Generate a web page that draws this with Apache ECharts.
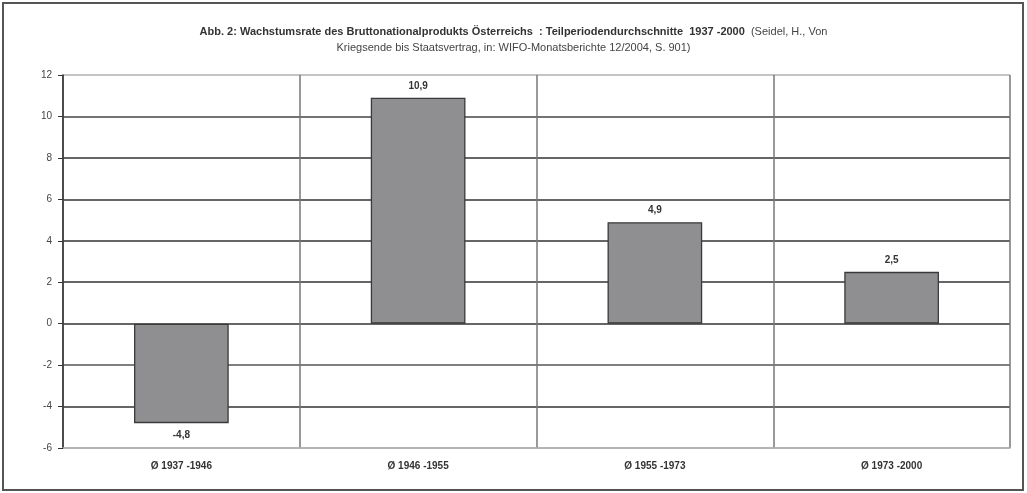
<!DOCTYPE html>
<html><head><meta charset="utf-8">
<script src="https://cdn.jsdelivr.net/npm/echarts@6/dist/echarts.min.js"></script>
<style>html,body{margin:0;padding:0;background:#fff}#c{width:1027px;height:493px}</style>
</head><body><div id="c"></div>
<script>
var categories = ['Ø 1937 -1946', 'Ø 1946 -1955', 'Ø 1955 -1973', 'Ø 1973 -2000'];
var growth = [-4.8, 10.9, 4.9, 2.5];
var yMin = -6, yMax = 12, yStep = 2;

var chart = echarts.init(document.getElementById('c'));
var gridColors = ['#b0b0b0','#333','#555','#333','#333','#333','#333','#333','#444','#b0b0b0'];
chart.setOption({
  animation: false,
  textStyle: {fontFamily: 'Liberation Sans'},
  graphic: [{type:'rect', shape:{x:3,y:3,width:1020,height:487}, style:{fill:'none', stroke:'#555', lineWidth:2}, silent:true}],
  title: {
    left: 'center', top: 19,
    text: '{b|Abb. 2: Wachstumsrate des Bruttonationalprodukts Österreichs  : Teilperiodendurchschnitte  1937 -2000}{n|  (Seidel, H., Von}\n{n|Kriegsende bis Staatsvertrag, in: WIFO-Monatsberichte 12/2004, S. 901)}',
    textStyle: {rich: {
      b: {fontSize: 11, fontWeight: 'bold', color: '#333', lineHeight: 16, fontFamily:'Liberation Sans'},
      n: {fontSize: 11, fontWeight: 'normal', color: '#444', lineHeight: 16, fontFamily:'Liberation Sans'}
    }}
  },
  grid: {left: 63, right: 17, top: 75, bottom: 45, containLabel: false},
  xAxis: {
    type: 'category', data: categories,
    axisLine: {onZero: false, lineStyle: {color: '#b0b0b0', width: 1.5}},
    axisTick: {show: false},
    splitLine: {show: true, lineStyle: {color: '#777', width: 1.5}},
    axisLabel: {color: '#333', fontSize: 10, fontWeight: 'bold', margin: 13}
  },
  yAxis: {
    type: 'value', min: yMin, max: yMax, interval: yStep,
    axisLine: {show: true, lineStyle: {color: '#333', width: 1.5}},
    axisTick: {show: true, length: 5, lineStyle: {color: '#333'}},
    axisLabel: {color: '#444', fontSize: 10, margin: 11},
    splitLine: {lineStyle: {color: gridColors, width: 1.5}}
  },
  series: [{
    type: 'bar', data: growth, barWidth: '40%',
    itemStyle: {color: '#8f8f91', borderColor: '#3a3a3a', borderWidth: 1.3},
    label: {show: true, position: 'outside', distance: 7, color: '#333', fontSize: 10, fontWeight: 'bold',
      formatter: function(p){ return String(p.value).replace('.', ','); }}
  }]
});
</script></body></html>
